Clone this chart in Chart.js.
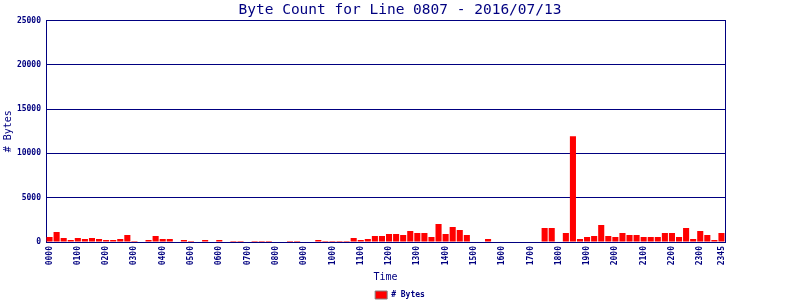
<!DOCTYPE html>
<html>
<head>
<meta charset="utf-8">
<title>Byte Count for Line 0807</title>
<script src="https://cdn.jsdelivr.net/npm/chart.js@4/dist/chart.umd.min.js"></script>
<style>
    html, body { margin: 0; padding: 0; background: #fff; }
    canvas { display: block; }
</style>
</head>
<body>
<canvas id="byteChart" width="800" height="300"></canvas>
<script>
// 15 minute slots over the day
const slots = [
    '0000', '0015', '0030', '0045', '0100', '0115', '0130', '0145',
    '0200', '0215', '0230', '0245', '0300', '0315', '0330', '0345',
    '0400', '0415', '0430', '0445', '0500', '0515', '0530', '0545',
    '0600', '0615', '0630', '0645', '0700', '0715', '0730', '0745',
    '0800', '0815', '0830', '0845', '0900', '0915', '0930', '0945',
    '1000', '1015', '1030', '1045', '1100', '1115', '1130', '1145',
    '1200', '1215', '1230', '1245', '1300', '1315', '1330', '1345',
    '1400', '1415', '1430', '1445', '1500', '1515', '1530', '1545',
    '1600', '1615', '1630', '1645', '1700', '1715', '1730', '1745',
    '1800', '1815', '1830', '1845', '1900', '1915', '1930', '1945',
    '2000', '2015', '2030', '2045', '2100', '2115', '2130', '2145',
    '2200', '2215', '2230', '2245', '2300', '2315', '2330', '2345'
];

// only these get a label on the x axis
const shownTicks = [
    '0000', '0100', '0200', '0300', '0400', '0500', '0600', '0700',
    '0800', '0900', '1000', '1100', '1200', '1300', '1400', '1500',
    '1600', '1700', '1800', '1900', '2000', '2100', '2200', '2300', '2345'
];

const bytes = [
    560, 1130, 450, 230, 450, 340, 450, 340,
    230, 230, 340, 790, 110, 0, 230, 680,
    340, 340, 0, 230, 110, 0, 230, 0,
    230, 0, 110, 110, 0, 110, 110, 110,
    0, 0, 110, 110, 0, 0, 230, 110,
    110, 110, 110, 450, 230, 340, 680, 680,
    900, 900, 790, 1240, 1010, 1010, 560, 2030,
    900, 1690, 1350, 790, 0, 0, 340, 0,
    0, 0, 0, 0, 0, 0, 1580, 1580,
    0, 1010, 11940, 340, 560, 680, 1910, 680,
    560, 1010, 790, 790, 560, 560, 560, 1010,
    1010, 560, 1580, 340, 1240, 790, 230, 1010
];

const yMax = 25000;
const yStep = 5000;

const NAVY = '#000080';
const MONO = '"DejaVu Sans Mono", "Liberation Mono", monospace';

const ctx = document.getElementById('byteChart').getContext('2d');

new Chart(ctx, {
    type: 'bar',
    data: {
        labels: slots,
        datasets: [{
            label: '# Bytes',
            data: bytes,
            backgroundColor: '#ff0000',
            borderWidth: 0,
            barPercentage: 0.86,
            categoryPercentage: 1.0
        }]
    },
    options: {
        responsive: false,
        animation: false,
        layout: { padding: 0 },
        plugins: {
            title: {
                display: true,
                text: 'Byte Count for Line 0807 - 2016/07/13',
                color: NAVY,
                font: { family: MONO, size: 14.5, weight: 'normal', lineHeight: 1.1 },
                padding: { top: 2, bottom: 2.5 }
            },
            legend: {
                position: 'bottom',
                maxHeight: 10,
                labels: {
                    color: NAVY,
                    boxWidth: 12,
                    boxHeight: 8,
                    padding: 1,
                    font: { family: MONO, size: 8, weight: 'bold' },
                    generateLabels: chart => Chart.defaults.plugins.legend.labels.generateLabels(chart)
                        .map(l => ({ ...l, strokeStyle: '#808080', lineWidth: 1 }))
                }
            },
            tooltip: { enabled: false }
        },
        scales: {
            x: {
                z: 1,
                offset: true,
                grid: { display: false, drawTicks: false },
                border: { color: NAVY, width: 1 },
                ticks: {
                    autoSkip: false,
                    maxRotation: 90,
                    minRotation: 90,
                    padding: 4,
                    color: NAVY,
                    font: { family: MONO, size: 8, weight: 'bold' },
                    callback: function (value) {
                        const lbl = this.getLabelForValue(value);
                        return shownTicks.includes(lbl) ? lbl : '';
                    }
                },
                title: {
                    display: true,
                    text: 'Time',
                    color: NAVY,
                    font: { family: MONO, size: 10 },
                    padding: { top: 0, bottom: 6.5 }
                },
                afterFit: scale => { scale.height = 48; }
            },
            y: {
                min: 0,
                max: yMax,
                grid: { color: NAVY, lineWidth: 1, drawTicks: false },
                border: { color: NAVY, width: 1 },
                ticks: {
                    stepSize: yStep,
                    padding: 5,
                    color: NAVY,
                    font: { family: MONO, size: 8, weight: 'bold' },
                    callback: value => String(value)
                },
                title: {
                    display: true,
                    text: '# Bytes',
                    color: NAVY,
                    font: { family: MONO, size: 10 },
                    padding: { top: 2, bottom: 0 }
                },
                afterFit: scale => { scale.width = 46; }
            },
            // empty right axis: gives the right edge of the box and the margin
            frame: {
                position: 'right',
                grid: { drawOnChartArea: false, drawTicks: false },
                border: { color: NAVY, width: 1 },
                ticks: { display: false },
                afterFit: scale => { scale.width = 75; }
            }
        }
    }
});
</script>
</body>
</html>
